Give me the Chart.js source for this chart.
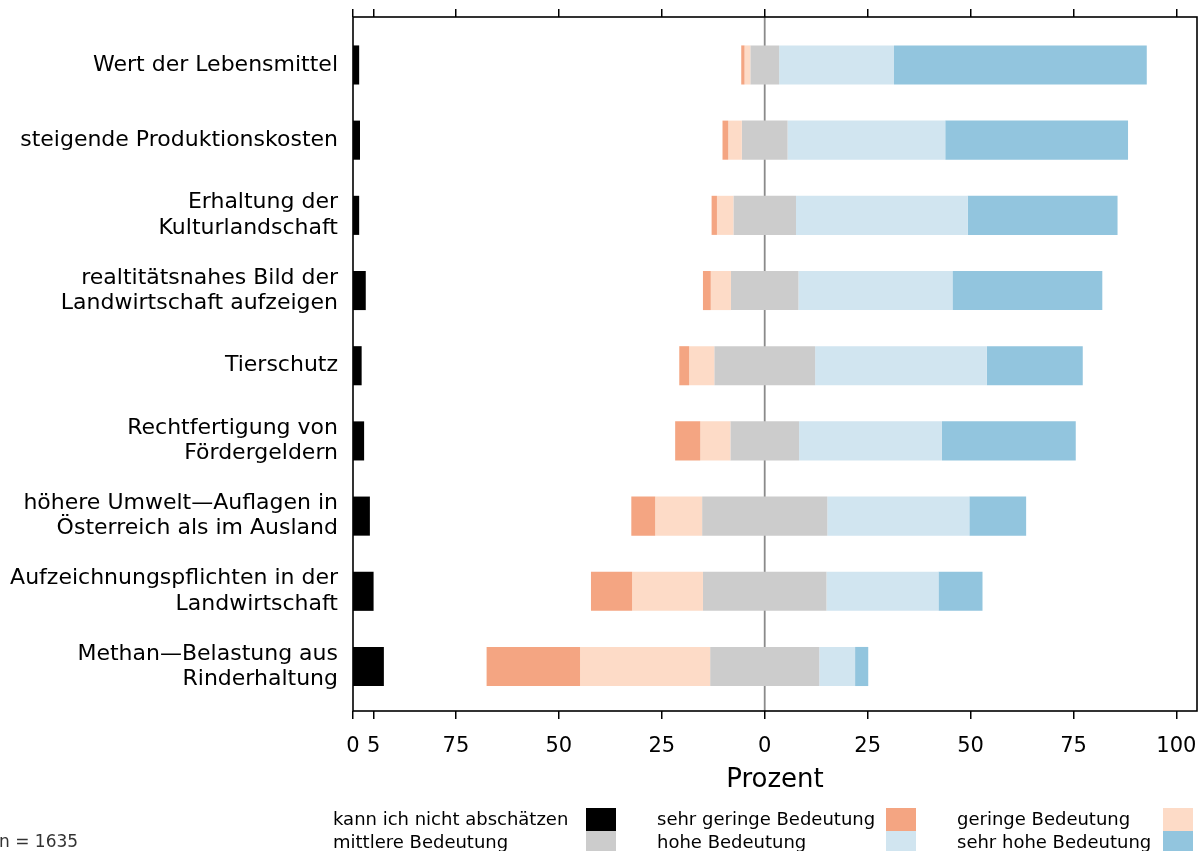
<!DOCTYPE html>
<html>
<head>
<meta charset="utf-8">
<script src="https://cdn.jsdelivr.net/npm/chart.js@4/dist/chart.umd.min.js"></script>
<style>
  html, body { margin: 0; padding: 0; background: #fff; overflow: hidden; }
  #wrap { width: 1198px; height: 851px; }
</style>
</head>
<body>
<div id="wrap"><canvas id="c" width="1198" height="851"></canvas></div>
<script>
// Aussagen (Zeilen), von oben nach unten
const categories = [
  'Wert der Lebensmittel',
  'steigende Produktionskosten',
  ['Erhaltung der', 'Kulturlandschaft'],
  ['realtitätsnahes Bild der', 'Landwirtschaft aufzeigen'],
  'Tierschutz',
  ['Rechtfertigung von', 'Fördergeldern'],
  ['höhere Umwelt—Auflagen in', 'Österreich als im Ausland'],
  ['Aufzeichnungspflichten in der', 'Landwirtschaft'],
  ['Methan—Belastung aus', 'Rinderhaltung']
];

// Anteile in Prozent je Antwortkategorie
const kannNicht   = [1.5, 1.7, 1.5, 3.1, 2.1, 2.7, 4.1, 5.0, 7.5];
const sehrGering  = [0.8, 1.4, 1.3, 1.9, 2.4, 6.1, 5.8, 10.0, 22.7];
const gering      = [1.4, 3.3, 4.0, 4.9, 6.1, 7.3, 11.4, 17.2, 31.6];
const mittel      = [7.0, 11.1, 15.2, 16.4, 24.5, 16.7, 30.4, 30.0, 26.5];
const hoch        = [27.9, 38.3, 41.7, 37.4, 41.7, 34.7, 34.5, 27.2, 8.7];
const sehrHoch    = [61.4, 44.4, 36.4, 36.4, 23.3, 32.5, 13.8, 10.7, 3.2];

const seriesNames = [
  'kann ich nicht abschätzen', 'sehr geringe Bedeutung', 'geringe Bedeutung',
  'mittlere Bedeutung', 'hohe Bedeutung', 'sehr hohe Bedeutung'
];
const seriesColors = ['#000000', '#f4a582', '#fddbc7', '#cccccc', '#d1e5f0', '#92c5de'];

// Achse: -100 ist der Nullpunkt der "kann ich nicht abschätzen"-Balken
const xTickValues = [-100, -95, -75, -50, -25, 0, 25, 50, 75, 100];
const xTickLabels = ['0', '5', '75', '50', '25', '0', '25', '50', '75', '100'];

const sampleNote = 'n = 1635';

// Schwebende Balken: "mittel" wird um 0 zentriert, negative Kategorien nach links
const rows = categories.map((_, i) => {
  const half = mittel[i] / 2;
  return {
    kn: [-100, -100 + kannNicht[i]],
    sg: [-(half + gering[i] + sehrGering[i]), -(half + gering[i])],
    g:  [-(half + gering[i]), -half],
    m:  [-half, half],
    h:  [half, half + hoch[i]],
    sh: [half + hoch[i], half + hoch[i] + sehrHoch[i]]
  };
});
const keys = ['kn', 'sg', 'g', 'm', 'h', 'sh'];

const datasets = keys.map((k, s) => ({
  label: seriesNames[s],
  data: rows.map((r, i) => ({ x: r[k], y: i })),
  backgroundColor: seriesColors[s],
  borderWidth: 0,
  grouped: false,
  categoryPercentage: 1,
  barPercentage: 0.52
}));

const FONT = 'DejaVu Sans';

const zeroLine = {
  id: 'zeroLine',
  beforeDatasetsDraw(chart) {
    const { ctx, chartArea, scales } = chart;
    const x = scales.x.getPixelForValue(0);
    ctx.save();
    ctx.strokeStyle = '#8a8a8a';
    ctx.lineWidth = 1.8;
    ctx.beginPath();
    ctx.moveTo(x, chartArea.top);
    ctx.lineTo(x, chartArea.bottom);
    ctx.stroke();
    ctx.restore();
  }
};

const frame = {
  id: 'frame',
  afterDatasetsDraw(chart) {
    const { ctx, chartArea: a } = chart;
    ctx.save();
    ctx.strokeStyle = '#000';
    ctx.lineWidth = 1.6;
    ctx.strokeRect(a.left, a.top, a.right - a.left, a.bottom - a.top);
    ctx.restore();
  }
};

// Legende: Text links, Farbfeld rechts, zwei Zeilen zu je drei Einträgen
const sideLegend = {
  id: 'sideLegend',
  afterDraw(chart) {
    const { ctx } = chart;
    const textX = [333, 657, 957];
    const boxX = [586, 886, 1163];
    ctx.save();
    ctx.font = `18px "${FONT}"`;
    ctx.textBaseline = 'middle';
    ctx.textAlign = 'left';
    chart.data.datasets.forEach((ds, i) => {
      const col = i % 3, row = Math.floor(i / 3);
      const cy = 820 + row * 23;
      ctx.fillStyle = '#000';
      ctx.fillText(ds.label, textX[col], cy);
      ctx.fillStyle = ds.backgroundColor;
      ctx.fillRect(boxX[col], cy - 12, 30, 23);
    });
    ctx.font = `17px "${FONT}"`;
    ctx.fillStyle = '#333';
    ctx.fillText(sampleNote, -1, 843);
    ctx.restore();
  }
};

const setXTicks = (axis) => { axis.ticks = xTickValues.map(v => ({ value: v })); };
const noEdgePadding = (s) => { s.paddingLeft = 0; s.paddingRight = 0; s.paddingTop = 0; s.paddingBottom = 0; };

new Chart(document.getElementById('c'), {
  type: 'bar',
  data: { datasets },
  options: {
    indexAxis: 'y',
    responsive: false,
    animation: false,
    layout: { padding: { left: 0, right: 1, top: 0, bottom: 50 } },
    plugins: { legend: { display: false }, tooltip: { enabled: false } },
    scales: {
      x: {
        type: 'linear',
        position: 'bottom',
        min: -100,
        max: 105,
        afterBuildTicks: setXTicks,
        afterFit(s) { s.height = 90; noEdgePadding(s); },
        grid: { drawOnChartArea: false, drawTicks: true, tickLength: 8, color: '#000', lineWidth: 1.5 },
        border: { display: false },
        ticks: {
          autoSkip: false,
          maxRotation: 0,
          padding: 15,
          color: '#000',
          font: { family: FONT, size: 21 },
          callback: (v, i) => xTickLabels[i]
        },
        title: {
          display: true,
          text: 'Prozent',
          color: '#000',
          font: { family: FONT, size: 26 },
          padding: { top: 0, bottom: 5 }
        }
      },
      xTop: {
        type: 'linear',
        position: 'top',
        min: -100,
        max: 105,
        afterBuildTicks: setXTicks,
        afterFit(s) { s.height = 17; noEdgePadding(s); },
        grid: { drawOnChartArea: false, drawTicks: true, tickLength: 8, color: '#000', lineWidth: 1.5 },
        border: { display: false },
        ticks: { display: false }
      },
      y: {
        type: 'linear',
        offset: false,
        reverse: true,
        min: -0.638,
        max: 8.592,
        afterBuildTicks(axis) { axis.ticks = categories.map((_, i) => ({ value: i })); },
        afterFit(s) { s.width = 353; noEdgePadding(s); },
        grid: { display: false, drawTicks: false, offset: false },
        border: { display: false },
        ticks: {
          autoSkip: false,
          padding: 15,
          color: '#000',
          crossAlign: 'near',
          font: { family: FONT, size: 22, lineHeight: 1.15 },
          callback: (v) => categories[v]
        }
      }
    }
  },
  plugins: [zeroLine, frame, sideLegend]
});
</script>
</body>
</html>
